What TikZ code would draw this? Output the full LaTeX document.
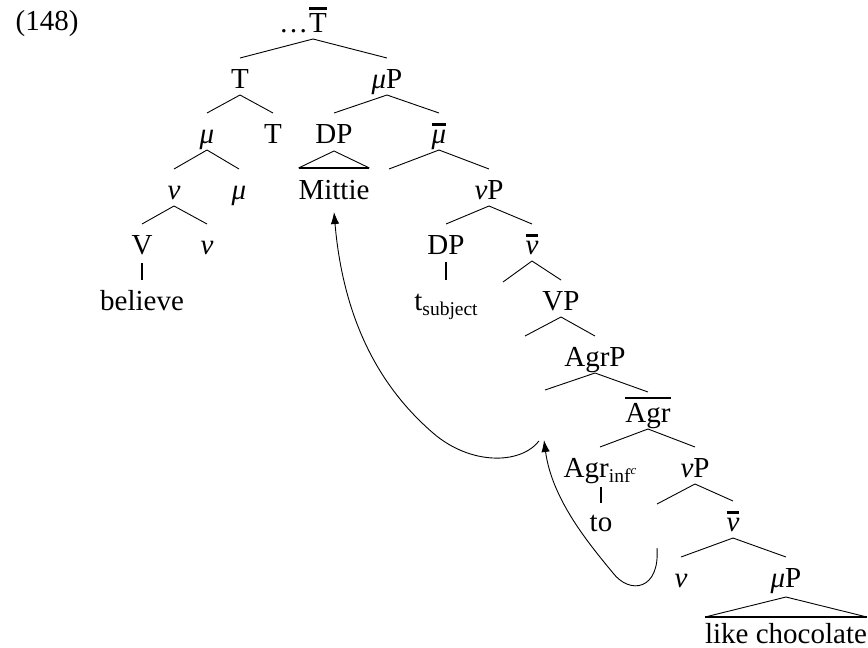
\documentclass[tikz,border=0pt]{standalone}
\usepackage{fontspec}
\setmainfont{Liberation Serif}
\usetikzlibrary{arrows.meta,calc}
\newsavebox\obbox
\newcommand{\ob}[1]{\sbox\obbox{#1}\rlap{\raisebox{\dimexpr\ht\obbox+3.5pt\relax}{\rule{\wd\obbox}{2.8pt}}}\usebox\obbox}
\newcommand{\gk}[1]{\textit{#1}}
\newcommand{\subtext}[1]{{\fontsize{19.5}{20}\selectfont #1}}
\newcommand{\edge}[2]{\draw[branch] ([yshift=-7pt]#1.base) -- ([yshift=30pt]#2.base);}
\begin{document}
\begin{tikzpicture}[x=1pt,y=-1pt,
  lbl/.style={anchor=base,inner sep=0pt,outer sep=0pt,font=\fontsize{29}{33}\selectfont},
  branch/.style={line width=0.9pt},
  thickline/.style={line width=2.8pt},
  mvarrow/.style={line width=0.9pt,-{Latex[length=12pt,width=8.5pt]}}]
\useasboundingbox (0,0) rectangle (868,648);

% labels
\node[lbl] (ex) at (47,30) {(148)};
\node[lbl] (top) at (318,32) {\llap{\dots\kern1pt}\ob{T}};
\node[lbl] (t1) at (240,88) {T};
\node[lbl] (mp1) at (387,88) {\gk{μ}P};
\node[lbl] (mu1) at (207,143) {\gk{μ}};
\node[lbl] (t2) at (273,143) {T};
\node[lbl] (dp1) at (334,143) {DP};
\node[lbl] (mub) at (439,143) {\ob{\gk{μ}}};
\node[lbl] (nu1) at (174,199) {\gk{ν}};
\node[lbl] (mu2) at (239,199) {\gk{μ}};
\node[lbl] (mittie) at (334,199) {Mittie};
\node[lbl] (e1) at (389,199) {};
\node[lbl] (vp1) at (489,199) {\gk{ν}P};
\node[lbl] (V) at (142,254) {V};
\node[lbl] (nu2) at (207,254) {\gk{ν}};
\node[lbl] (dp2) at (446,254) {DP};
\node[lbl] (nub1) at (532,254) {\ob{\gk{ν}}};
\node[lbl] (believe) at (142,310) {believe};
\node[lbl] (tsub) at (446,310) {t\raisebox{-5pt}{\subtext{subject}}};
\node[lbl] (e2) at (503,312) {};
\node[lbl] (VP) at (561,310) {VP};
\node[lbl] (e5) at (525,366) {};
\node[lbl] (agrp) at (595,366) {AgrP};
\node[lbl] (e3) at (545,420) {};
\node[lbl] (agrb) at (648,422) {\ob{Agr}};
\node[lbl] (agrinf) at (600,477) {Agr\raisebox{-5pt}{\subtext{inf}\raisebox{8pt}{\fontsize{13}{14}\selectfont\textit{c}}}};
\node[lbl] (vp2) at (695,477) {\gk{ν}P};
\node[lbl] (to) at (601,531) {to};
\node[lbl] (e4) at (657,534) {};
\node[lbl] (nub2) at (733,531) {\ob{\gk{ν}}};
\node[lbl] (nu3) at (681,587) {\gk{ν}};
\node[lbl] (mp2) at (786,587) {\gk{μ}P};
\node[lbl] (like) at (786,643) {like chocolate};

% branches
\draw[branch] ([xshift=-5pt,yshift=-7pt]top.base) -- ([yshift=30pt]t1.base);
\draw[branch] ([xshift=-5pt,yshift=-7pt]top.base) -- ([yshift=30pt]mp1.base);
\edge{t1}{mu1}
\edge{t1}{t2}
\edge{mp1}{dp1}
\edge{mp1}{mub}
\edge{mu1}{nu1}
\edge{mu1}{mu2}
\edge{mub}{e1}
\edge{mub}{vp1}
\edge{nu1}{V}
\edge{nu1}{nu2}
\edge{vp1}{dp2}
\edge{vp1}{nub1}
\edge{nub1}{e2}
\edge{nub1}{VP}
\edge{VP}{e5}
\edge{VP}{agrp}
\edge{agrp}{e3}
\edge{agrp}{agrb}
\edge{agrb}{agrinf}
\edge{agrb}{vp2}
\edge{vp2}{e4}
\edge{vp2}{nub2}
\edge{nub2}{nu3}
\edge{nub2}{mp2}

% non-branching
\draw[thickline] ([yshift=-9pt]V.base) -- ([yshift=30pt]believe.base);
\draw[thickline] ([yshift=-8pt]dp2.base) -- ([yshift=30pt]tsub.base);
\coordinate (atop) at ([yshift=-10pt]agrinf.base);
\draw[thickline] (to.base |- atop) -- ([yshift=28pt]to.base);

% triangles
\coordinate (mtop) at ([yshift=31pt]mittie.base);
\draw[branch] (mittie.west |- mtop) -- ([yshift=-8pt]dp1.base) -- (mittie.east |- mtop);
\draw[thickline] (mittie.west |- mtop) -- (mittie.east |- mtop);
\coordinate (ltop) at ([yshift=26pt]like.base);
\draw[branch] (like.west |- ltop) -- ([yshift=-10pt]mp2.base) -- (like.east |- ltop);
\draw[thickline] (like.west |- ltop) -- (like.east |- ltop);

% movement arrows
\draw[mvarrow] ([xshift=-6pt,yshift=-21pt]e3.base) .. controls (520,465) and (470,465) .. (433,433)
  .. controls (395,400) and (345,340) .. ([yshift=-13pt]mittie.base);
\draw[mvarrow] ([yshift=-14pt]e4.base) .. controls (660,590) and (630,595) .. (613,573)
  .. controls (590,545) and (552,500) .. ([xshift=-1pt,yshift=-20pt]e3.base);
\end{tikzpicture}
\end{document}
